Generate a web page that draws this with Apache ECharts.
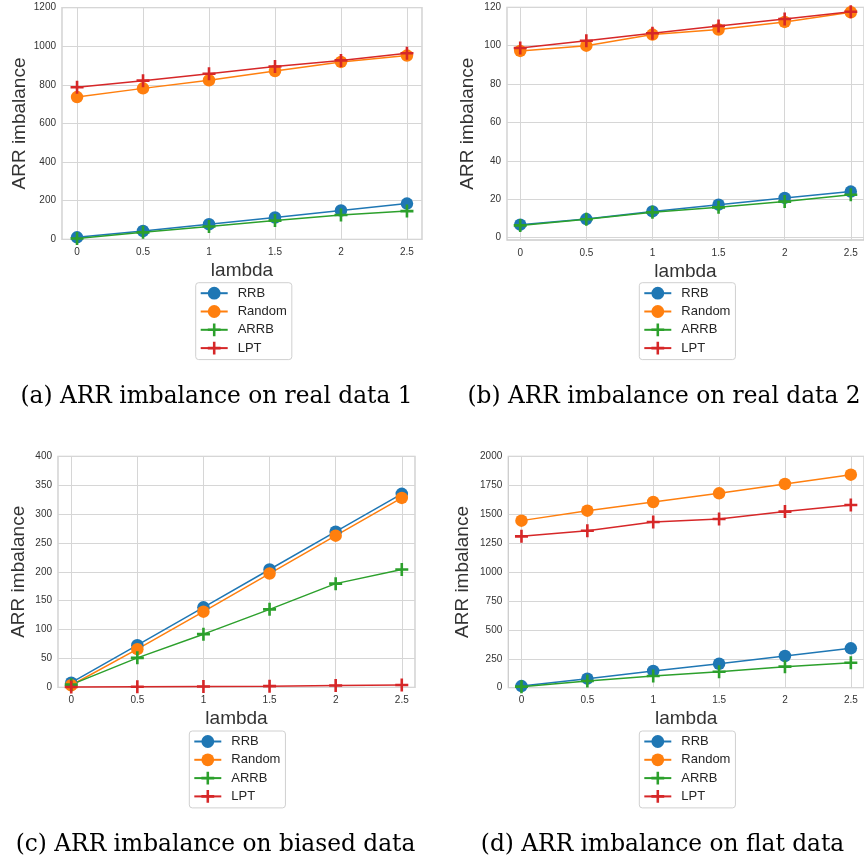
<!DOCTYPE html>
<html>
<head>
<meta charset="utf-8">
<script src="https://cdn.jsdelivr.net/npm/echarts@6/dist/echarts.min.js"></script>
<style>
html,body{margin:0;padding:0;background:#fff;}
#chart{width:864px;height:861px;}
</style>
</head>
<body>
<div id="chart"></div>
<script>
// ---- data ----
const lambdas = [0, 0.5, 1, 1.5, 2, 2.5];
const seriesNames = ['RRB', 'Random', 'ARRB', 'LPT'];

const a_RRB = [10, 43, 78, 113, 149, 185];
const a_Random = [737, 782, 824, 872, 919, 952];
const a_ARRB = [4, 36, 66, 97, 126, 146];
const a_LPT = [788, 822, 858, 895, 927, 964];
const a_yTicks = [0, 200, 400, 600, 800, 1000, 1200];

const b_RRB = [6.8, 9.7, 13.7, 17.2, 20.7, 24.0];
const b_Random = [97.3, 100.0, 105.8, 108.4, 112.4, 117.4];
const b_ARRB = [6.4, 9.6, 13.2, 15.8, 18.8, 22.4];
const b_LPT = [98.8, 102.6, 106.5, 110.3, 113.9, 117.7];
const b_yTicks = [0, 20, 40, 60, 80, 100, 120];

const c_RRB = [8, 73, 138.5, 204, 269.5, 335];
const c_Random = [3.5, 66, 131, 197, 262.6, 328];
const c_ARRB = [4.6, 51, 92, 135, 179.5, 204];
const c_LPT = [0.5, 1, 1.5, 2, 3, 4];
const c_yTicks = [0, 50, 100, 150, 200, 250, 300, 350, 400];

const d_RRB = [14, 78, 144, 207, 274, 340];
const d_Random = [1444, 1530, 1605, 1680, 1761, 1841];
const d_ARRB = [9, 58, 101, 138, 182, 216];
const d_LPT = [1308, 1357, 1432, 1458, 1522, 1579];
const d_yTicks = [0, 250, 500, 750, 1000, 1250, 1500, 1750, 2000];

const captions = [
  '(a) ARR imbalance on real data 1',
  '(b) ARR imbalance on real data 2',
  '(c) ARR imbalance on biased data',
  '(d) ARR imbalance on flat data'
];

// ---- layout / style ----
const colors = {RRB: '#1f77b4', Random: '#ff7f0e', ARRB: '#2ca02c', LPT: '#d62728'};
const PLUS = 'path://M5.2,0H7.8V5.2H13V7.8H7.8V13H5.2V7.8H0V5.2H5.2Z';
const symbols = {RRB: 'circle', Random: 'circle', ARRB: PLUS, LPT: PLUS};
const symSizes = {RRB: 12.5, Random: 12.5, ARRB: 13, LPT: 13};

const panels = [
  {data: [a_RRB, a_Random, a_ARRB, a_LPT], yTicks: a_yTicks, ymin: 0, ymax: 1200, xmin: -0.114, xmax: 2.614,
   grid: {left: 62, top: 7.7, width: 360, height: 231.6}, nameGap: 33, legend: {left: 195.7, top: 282.7},
   cap: {x: 216.5, y: 397}},
  {data: [b_RRB, b_Random, b_ARRB, b_LPT], yTicks: b_yTicks, ymin: -1.2, ymax: 120, xmin: -0.1, xmax: 2.6,
   grid: {left: 507, top: 7.3, width: 358, height: 232.7}, nameGap: 30, legend: {left: 639.3, top: 282.7},
   cap: {x: 664, y: 397}},
  {data: [c_RRB, c_Random, c_ARRB, c_LPT], yTicks: c_yTicks, ymin: 0, ymax: 400, xmin: -0.1, xmax: 2.6,
   grid: {left: 58, top: 456.3, width: 357, height: 231}, nameGap: 29.5, legend: {left: 189.3, top: 731},
   cap: {x: 215.5, y: 845}},
  {data: [d_RRB, d_Random, d_ARRB, d_LPT], yTicks: d_yTicks, ymin: 0, ymax: 2000, xmin: -0.1, xmax: 2.6,
   grid: {left: 508.3, top: 456.3, width: 357, height: 231.4}, nameGap: 36, legend: {left: 639.3, top: 731},
   cap: {x: 662.5, y: 845}}
];

const textColor = '#333333';
const grids = [], xAxes = [], yAxes = [], series = [], legends = [], graphics = [];

panels.forEach((p, i) => {
  grids.push(Object.assign({show: true, borderColor: '#cccccc', borderWidth: 1.3, backgroundColor: '#fff'}, p.grid));
  xAxes.push({
    type: 'value', gridIndex: i, min: p.xmin, max: p.xmax,
    name: 'lambda', nameLocation: 'middle', nameGap: 22,
    nameTextStyle: {fontFamily: 'Liberation Sans', fontSize: 19, color: textColor},
    axisLine: {show: false}, axisTick: {show: false, customValues: lambdas},
    axisLabel: {customValues: lambdas, fontFamily: 'Liberation Sans', fontSize: 10, color: textColor, margin: 8,
                formatter: v => String(v)},
    splitLine: {show: true, lineStyle: {color: '#d6d6d6', width: 1}}
  });
  yAxes.push({
    type: 'value', gridIndex: i, min: p.ymin, max: p.ymax,
    name: 'ARR imbalance', nameLocation: 'middle', nameGap: p.nameGap,
    nameTextStyle: {fontFamily: 'Liberation Sans', fontSize: 19, color: textColor},
    axisLine: {show: false}, axisTick: {show: false, customValues: p.yTicks},
    axisLabel: {customValues: p.yTicks, fontFamily: 'Liberation Sans', fontSize: 10, color: textColor, margin: 6,
                formatter: v => String(v)},
    splitLine: {show: true, lineStyle: {color: '#d6d6d6', width: 1}}
  });
  seriesNames.forEach((name, k) => {
    series.push({
      type: 'line', name: name, xAxisIndex: i, yAxisIndex: i,
      data: lambdas.map((x, j) => [x, p.data[k][j]]),
      symbol: symbols[name], symbolSize: symSizes[name], showSymbol: true,
      lineStyle: {color: colors[name], width: 1.5},
      itemStyle: {color: colors[name], opacity: 1},
      emphasis: {disabled: true}, animation: false
    });
  });
  legends.push({
    data: seriesNames, orient: 'vertical', left: p.legend.left, top: p.legend.top,
    itemWidth: 27, itemHeight: 16, itemGap: 5.3,
    padding: [4, 5, 5, 4],
    backgroundColor: '#fff', borderColor: '#d0d0d0', borderWidth: 1, borderRadius: 3,
    textStyle: {fontFamily: 'Liberation Sans', fontSize: 13, color: '#262626', padding: [0, 0, 0, 5]},
    selectedMode: false
  });
  graphics.push({
    type: 'text', x: p.cap.x, y: p.cap.y,
    style: {text: captions[i], font: '23.3px "DejaVu Serif"', fill: '#000', textAlign: 'center', textVerticalAlign: 'middle'}
  });
});

const chart = echarts.init(document.getElementById('chart'), null, {renderer: 'canvas'});
chart.setOption({
  animation: false,
  backgroundColor: '#fff',
  grid: grids, xAxis: xAxes, yAxis: yAxes, series: series, legend: legends,
  graphic: graphics
});
</script>
</body>
</html>
